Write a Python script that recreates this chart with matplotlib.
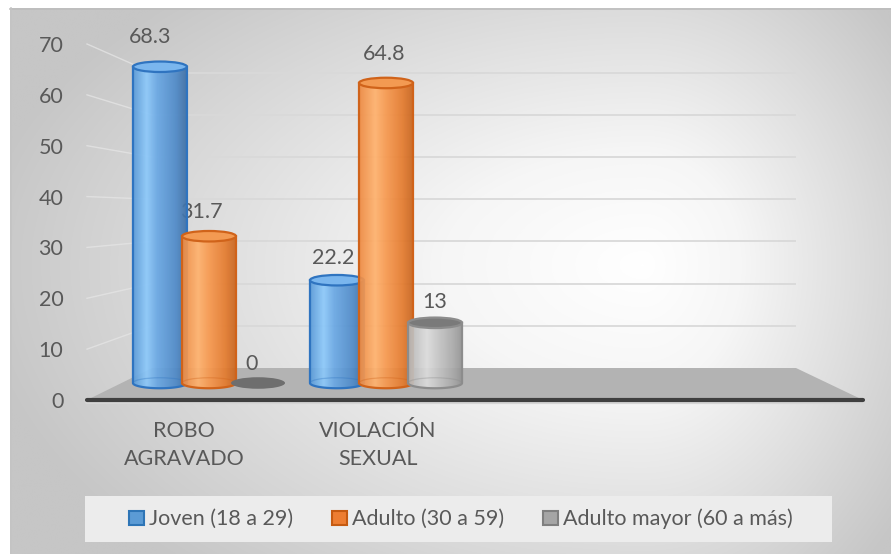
import numpy as np
import matplotlib.pyplot as plt
from matplotlib.patches import Ellipse, Polygon, Rectangle, Patch, Arc
from matplotlib.colors import LinearSegmentedColormap

plt.rcParams['font.family'] = ['Lato', 'DejaVu Sans']

# datos
categorias = ['ROBO\nAGRAVADO', 'VIOLACIÓN\nSEXUAL']
series = ['Joven (18 a 29)', 'Adulto (30 a 59)', 'Adulto mayor (60 a más)']
joven = [68.3, 22.2]
adulto = [31.7, 64.8]
mayor = [0, 13]
valores = [joven, adulto, mayor]
yticks = [0, 10, 20, 30, 40, 50, 60, 70]

W, H = 891, 554
n_slots = 4          # el eje de la grafica original tiene 4 espacios
txt = '#595959'
fs = 15.5

fig = plt.figure(figsize=(W / 100, H / 100), dpi=100)

# fondo con degradado
bg = fig.add_axes([0, 0, 1, 1])
bg.set_xlim(0, W)
bg.set_ylim(H, 0)
bg.axis('off')
yy, xx = np.mgrid[0:H, 0:W].astype(float)
dx = (xx - 640) / np.where(xx < 640, 680, 330)
dy = (yy - 260) / np.where(yy < 260, 380, 420)
dist = np.clip(np.hypot(dx, dy), 0, 1)
cmap_bg = LinearSegmentedColormap.from_list('bg', [(0, '#ffffff'), (0.3, '#f6f6f6'), (1, '#c6c6c6')])
bg.imshow(dist, cmap=cmap_bg, extent=(10, W, H, 8), vmin=0, vmax=1, aspect='auto', zorder=0)
bg.plot([10, W], [8.5, 8.5], color='#bdbdbd', lw=1.2, zorder=1)
bg.plot([10.5, 10.5], [8, H], color='#c4c4c4', lw=1.2, zorder=1)


def plano(x0, x1, base, escala):
    # ejes "planos" de la perspectiva: base = pixel del 0, escala = px por unidad
    a = fig.add_axes([x0 / W, 0, (x1 - x0) / W, 1])
    a.set_xlim(-0.5, n_slots - 0.5)
    a.set_ylim((base - H) / escala, base / escala)
    a.patch.set_visible(False)
    for s in a.spines.values():
        s.set_visible(False)
    a.set_xticks([])
    a.set_yticks([])
    return a


ax_back = plano(152, 796, 368, 4.22)
ax_front = plano(87, 863, 400, 5.086)
ax_lab = plano(109.5, 841.5, 364, 4.79)
ax = plano(120.5, 828.5, 383, 4.63)


def a_bg(a, x, y):
    return bg.transData.inverted().transform(a.transData.transform((x, y)))


# lineas de division: pared del fondo y pared izquierda
for t in yticks[1:]:
    ax_back.axhline(t, color='#d9d9d9', lw=1.3, zorder=1)
    p1 = a_bg(ax_front, -0.5, t)
    p2 = a_bg(ax_back, -0.5, t)
    bg.plot([p1[0], p2[0]], [p1[1], p2[1]], color='#e4e4e4', lw=1.0, alpha=0.8, zorder=2)

# piso
piso = [a_bg(ax_front, -0.5, 0), a_bg(ax_back, -0.5, 0),
        a_bg(ax_back, n_slots - 0.5, 0), a_bg(ax_front, n_slots - 0.5, 0)]
bg.add_patch(Polygon(piso, closed=True, facecolor='#b3b3b3', edgecolor='none', zorder=3))
f0, f1 = piso[0], piso[3]
bg.plot([f0[0], f1[0]], [f0[1] + 2, f1[1] + 2], color='#d5d5d5', lw=3, zorder=3,
        solid_capstyle='round')
bg.plot([f0[0], f1[0]], [f0[1], f1[1]], color='#3f3f3f', lw=3, zorder=4,
        solid_capstyle='round')

# eje y
ax_front.set_yticks(yticks)
ax_front.set_yticklabels([str(t) for t in yticks])
ax_front.tick_params(axis='y', length=0, pad=17, labelsize=fs, labelcolor=txt)

# etiquetas de categorias
for i, c in enumerate(categorias):
    ax_front.text(i, (400 - 445) / 5.086, c, ha='center', va='center', fontsize=fs,
                  color=txt, linespacing=1.5)

cuerpos = [
    [(0, '#5a9ad8'), (0.25, '#8dc9fa'), (0.45, '#6aa8e4'), (0.8, '#4f8ac8'), (1, '#3f6fa5')],
    [(0, '#ee8a42'), (0.3, '#ffb26e'), (0.5, '#f7994f'), (0.8, '#e57c2f'), (1, '#c9661f')],
    [(0, '#b4b4b4'), (0.35, '#dcdcdc'), (0.55, '#c6c6c6'), (0.85, '#a8a8a8'), (1, '#949494')],
]
bordes = ['#2f74c0', '#d0631a', '#8c8c8c']
tapas = ['#7ab6ee', '#f39a52', '#7a7a7a']
rellenos = ['#5b9bd5', '#ed7d31', '#a5a5a5']
bordes_ley = ['#2e75b6', '#c55a11', '#7f7f7f']

paso = 0.277
ancho = 0.305
alto_elipse = 10.5 / 4.63
grad = np.linspace(0, 1, 200).reshape(1, -1)


def cilindro(cx, v, s, z):
    if v == 0:
        ax.add_patch(Ellipse((cx, 0), ancho, alto_elipse * 1.1, facecolor='#6e6e6e',
                             edgecolor='none', zorder=z))
        return
    t = np.linspace(np.pi, 2 * np.pi, 60)
    bx = cx + ancho / 2 * np.cos(t)
    by = alto_elipse / 2 * np.sin(t)
    verts = [(cx - ancho / 2, v)] + list(zip(bx, by)) + [(cx + ancho / 2, v)]
    poly = Polygon(verts, closed=True, facecolor='none', edgecolor=bordes[s], lw=1.6, zorder=z + 0.2)
    ax.add_patch(poly)
    cm = LinearSegmentedColormap.from_list('c%d' % s, cuerpos[s])
    im = ax.imshow(grad, cmap=cm, extent=(cx - ancho / 2, cx + ancho / 2, -alto_elipse / 2, v),
                   aspect='auto', zorder=z, alpha=0.93, interpolation='bilinear')
    im.set_clip_path(poly)
    ax.add_patch(Arc((cx, 0), ancho, alto_elipse, theta1=0, theta2=180, edgecolor=bordes[s],
                     lw=0.9, alpha=0.35, zorder=z + 0.1))
    ax.add_patch(Ellipse((cx, v), ancho, alto_elipse, facecolor=tapas[s], edgecolor=bordes[s],
                         lw=1.6, zorder=z + 0.3))


for i in range(len(categorias)):
    for s, vals in enumerate(valores):
        cx = i + (s - 1) * paso
        cilindro(cx, vals[i], s, 2 + s)
        ax_lab.text(cx, vals[i], f'{vals[i]:g}', ha='center', va='center', fontsize=fs,
                    color=txt, zorder=10)

ax.set_xlim(-0.5, n_slots - 0.5)
ax.set_ylim((383 - H) / 4.63, 383 / 4.63)

# leyenda
bg.add_patch(Rectangle((85, 496), 832 - 85, 46, facecolor='#ececec', edgecolor='none', zorder=2))
handles = [Patch(facecolor=rellenos[s], edgecolor=bordes_ley[s], lw=1.5) for s in range(3)]
fig.legend(handles, series, loc='center', bbox_to_anchor=(461 / W, 1 - 519 / H), ncol=3,
           frameon=False, fontsize=fs, labelcolor=txt, handlelength=0.7, handleheight=0.65,
           handletextpad=0.23, columnspacing=1.8)

fig.savefig('out.png', dpi=100)
